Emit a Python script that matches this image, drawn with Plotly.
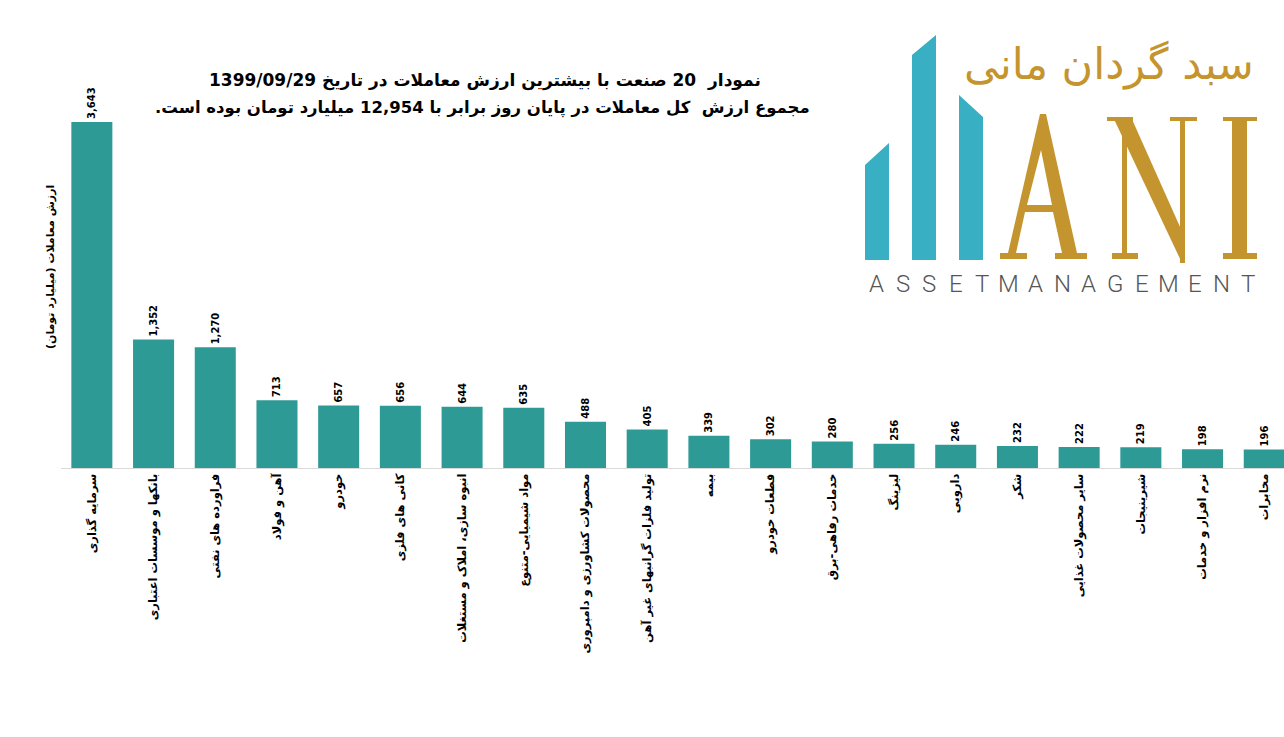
import plotly.graph_objects as go

categories = [
    "سرمایه گذاری",
    "بانکها و موسسات اعتباری",
    "فراورده های نفتی",
    "آهن و فولاد",
    "خودرو",
    "کانی های فلزی",
    "انبوه سازی، املاک و مستغلات",
    "مواد شیمیایی-متنوع",
    "محصولات کشاورزی و دامپروری",
    "تولید فلزات گرانبهای غیر آهن",
    "بیمه",
    "قطعات خودرو",
    "خدمات رفاهی-برق",
    "لیزینگ",
    "دارویی",
    "شکر",
    "سایر محصولات غذایی",
    "شیرینیجات",
    "نرم افزار و خدمات",
    "مخابرات",
]
values = [3643, 1352, 1270, 713, 657, 656, 644, 635, 488, 405,
          339, 302, 280, 256, 246, 232, 222, 219, 198, 196]

title_line1 = "نمودار  20 صنعت با بیشترین ارزش معاملات در تاریخ 1399/09/29"
title_line2 = "مجموع ارزش  کل معاملات در پایان روز برابر با 12,954 میلیارد تومان بوده است."
y_title = "ارزش معاملات (میلیارد تومان)"
logo_fa = "سبد گردان مانی"
logo_en = "ASSETMANAGEMENT"

RLM = "\u200f"
W, H = 1284, 737
ML, MR, MT, MB = 61, 0, 80, 269
PW = W - ML - MR
PH = H - MT - MB
BASE = H - MB

def px(x):
    return (x - ML) / PW

def py(y):
    return (BASE - y) / PH

def path(pts):
    return "M " + " L ".join(f"{px(a):.5f},{py(b):.5f}" for a, b in pts) + " Z"

fig = go.Figure()
fig.add_trace(go.Bar(
    x=[RLM + c + RLM for c in categories],
    y=values,
    marker=dict(color="#2e9a96", line=dict(width=0)),
    text=[f"{v:,}" for v in values],
    textposition="outside",
    textangle=-90,
    textfont=dict(family="DejaVu Sans", size=10, color="#000000", weight="bold"),
    cliponaxis=False,
    hoverinfo="skip",
))

teal = "#38afc3"
gold = "#c4952f"
shapes = []
# logo teal bars
for pts in [
    [(865, 165), (889, 143), (889, 260), (865, 260)],
    [(912, 55), (936, 35), (936, 260), (912, 260)],
    [(959, 95), (983, 117), (983, 260), (959, 260)],
]:
    shapes.append(dict(type="path", xref="paper", yref="paper", path=path(pts),
                       fillcolor=teal, line=dict(width=0), layer="above"))
# letter A
a_outer = [(1040, 114), (1046, 114), (1077, 253), (1087, 253), (1087, 259), (1055, 259),
           (1055, 253), (1062, 253), (1053, 212), (1025, 212), (1016, 253), (1027, 253),
           (1027, 259), (1000, 259), (1000, 253), (1008, 253)]
a_inner = [(1041, 150), (1052, 205), (1027, 205)]
shapes.append(dict(type="path", xref="paper", yref="paper",
                   path=path(a_outer) + " " + path(a_inner),
                   fillcolor=gold, line=dict(width=0), layer="above"))
# letter N
n_parts = [
    [(1122, 117), (1127, 117), (1127, 259), (1122, 259)],
    [(1107, 117), (1133, 117), (1133, 121), (1107, 121)],
    [(1112, 253), (1138, 253), (1138, 259), (1112, 259)],
    [(1113, 117), (1131, 117), (1185, 238), (1185, 263), (1182, 263)],
    [(1180, 117), (1185, 117), (1185, 263), (1180, 263)],
    [(1170, 117), (1197, 117), (1197, 121), (1170, 121)],
]
# letter I
i_parts = [
    [(1232, 117), (1247, 117), (1247, 259), (1232, 259)],
    [(1223, 117), (1257, 117), (1257, 121), (1223, 121)],
    [(1223, 253), (1257, 253), (1257, 259), (1223, 259)],
]
for pts in n_parts + i_parts:
    shapes.append(dict(type="path", xref="paper", yref="paper", path=path(pts),
                       fillcolor=gold, line=dict(width=0), layer="above"))

annotations = [
    dict(text=RLM + title_line1 + RLM, x=px(485), y=py(80), xref="paper", yref="paper",
         showarrow=False, xanchor="center", yanchor="middle",
         font=dict(family="DejaVu Sans", size=17, color="#000000", weight="bold")),
    dict(text=RLM + title_line2 + RLM, x=px(482), y=py(108), xref="paper", yref="paper",
         showarrow=False, xanchor="center", yanchor="middle",
         font=dict(family="DejaVu Sans", size=16.5, color="#000000", weight="bold")),
    dict(text=RLM + y_title + RLM, x=px(50), y=py(267), xref="paper", yref="paper",
         showarrow=False, xanchor="center", yanchor="middle", textangle=-90,
         font=dict(family="DejaVu Sans", size=11, color="#000000", weight="bold")),
    dict(text=RLM + logo_fa + RLM, x=px(1109), y=py(65), xref="paper", yref="paper",
         showarrow=False, xanchor="center", yanchor="middle",
         font=dict(family="DejaVu Sans", size=43, color=gold)),
]
x0, x1 = 876, 1248
n = len(logo_en)
for i, ch in enumerate(logo_en):
    annotations.append(dict(text=ch, x=px(x0 + (x1 - x0) * i / (n - 1)), y=py(284),
                            xref="paper", yref="paper", showarrow=False,
                            xanchor="center", yanchor="middle",
                            font=dict(family="Roboto", size=24, color="#555555", weight=300)))

fig.update_layout(
    width=W, height=H,
    margin=dict(l=ML, r=MR, t=MT, b=MB, autoexpand=False),
    paper_bgcolor="#ffffff", plot_bgcolor="#ffffff",
    showlegend=False,
    bargap=0.335,
    xaxis=dict(range=[-0.5, 19.32], showline=True, linecolor="#d9d9d9", linewidth=1,
               showgrid=False, zeroline=False, ticks="", tickangle=-90,
               tickfont=dict(family="DejaVu Sans", size=11.5, color="#000000", weight="bold"),
               fixedrange=True),
    yaxis=dict(range=[0, 4085], showticklabels=False, showgrid=False, zeroline=False,
               showline=False, ticks="", fixedrange=True),
    shapes=shapes,
    annotations=annotations,
)

fig.write_html("out.html", config={"displayModeBar": False},
               post_script="document.body.style.margin='0';document.body.style.overflow='hidden';")
